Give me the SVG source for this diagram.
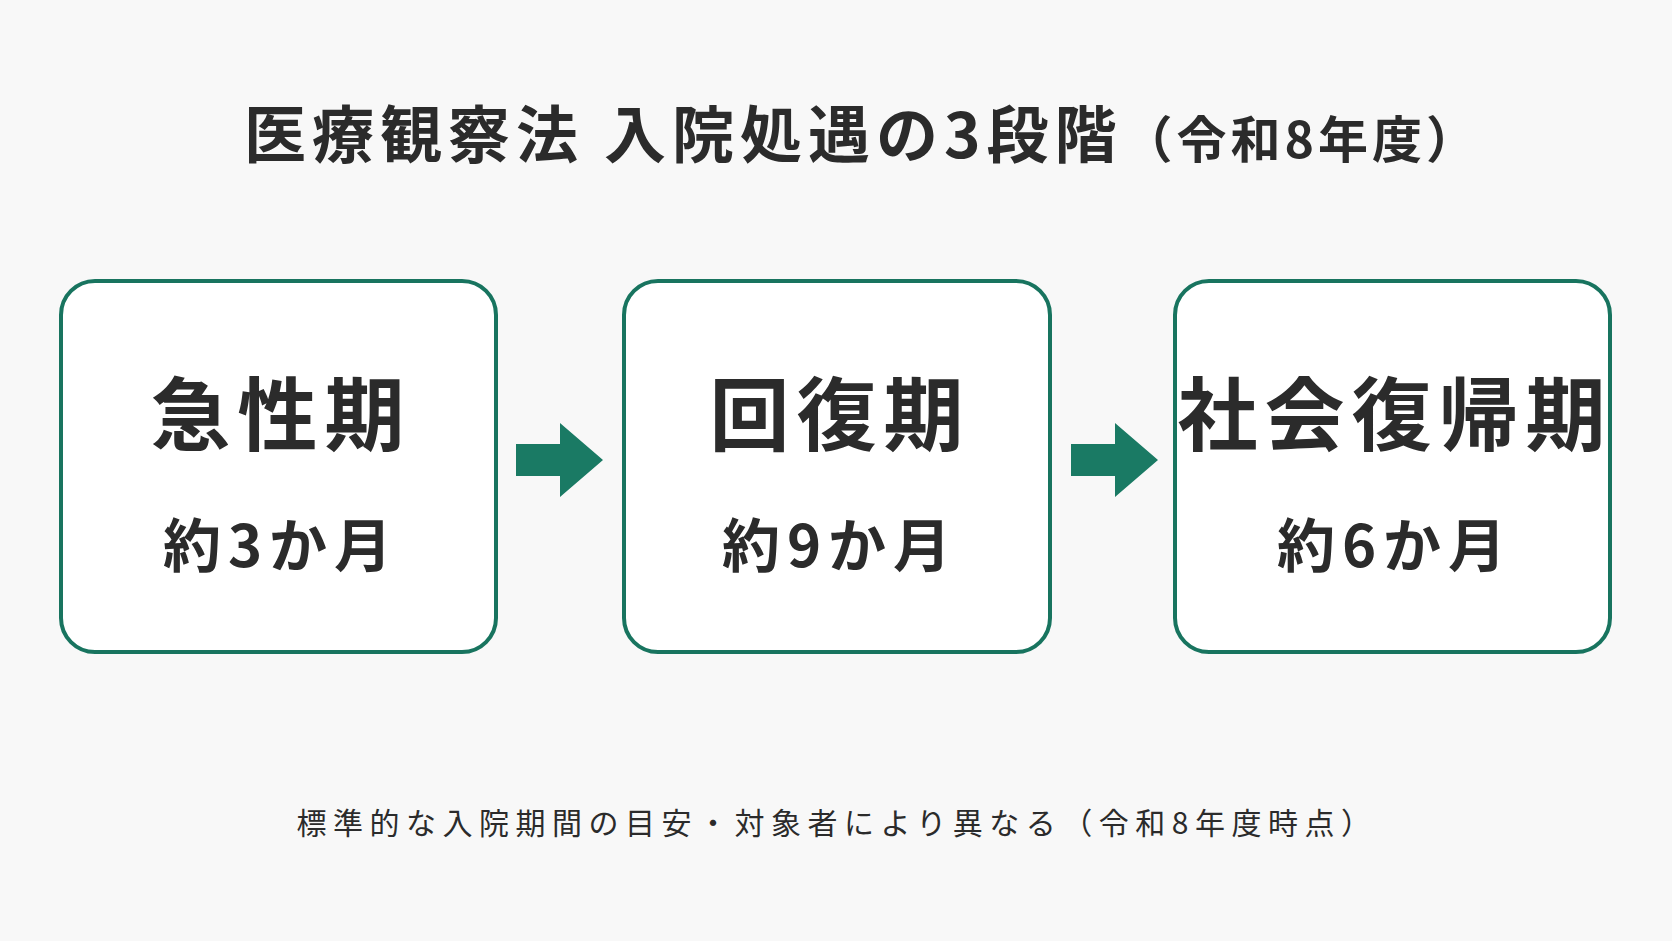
<svg xmlns="http://www.w3.org/2000/svg" width="1672" height="941" viewBox="0 0 1672 941">
<style>
text{font-family:"Noto Sans CJK JP","Noto Sans",sans-serif;fill:#2b2b2b;text-anchor:middle}
.box{fill:#fff;stroke:#18745f;stroke-width:4}
.t{font-size:80px;font-weight:700;letter-spacing:7px}
.s{font-size:58px;font-weight:700;letter-spacing:7px}
.arr{fill:#1a7a64}
</style>
<rect width="1672" height="941" fill="#f8f8f8"/>
<text x="862" y="158" font-size="62" font-weight="700" letter-spacing="6">医療観察法 入院処遇の3段階<tspan font-size="50" letter-spacing="4">（令和8年度）</tspan></text>
<g id="n1"><rect class="box" x="61" y="281" width="435" height="371" rx="34"/><text class="t" x="281" y="444">急性期</text><text class="s" x="281" y="567">約3か月</text></g>
<g id="n2"><rect class="box" x="624" y="281" width="426" height="371" rx="34"/><text class="t" x="840" y="444">回復期</text><text class="s" x="840" y="567">約9か月</text></g>
<g id="n3"><rect class="box" x="1175" y="281" width="435" height="371" rx="34"/><text class="t" x="1395" y="444">社会復帰期</text><text class="s" x="1395" y="567">約6か月</text></g>
<g id="connectors">
<polygon class="arr" points="516,444 560,444 560,423 603,460 560,497 560,476 516,476"/>
<polygon class="arr" points="1071,444 1115,444 1115,423 1158,460 1115,497 1115,476 1071,476"/>
</g>
<text x="837" y="834" font-size="30" letter-spacing="6.5">標準的な入院期間の目安・対象者により異なる（令和8年度時点）</text>
</svg>
